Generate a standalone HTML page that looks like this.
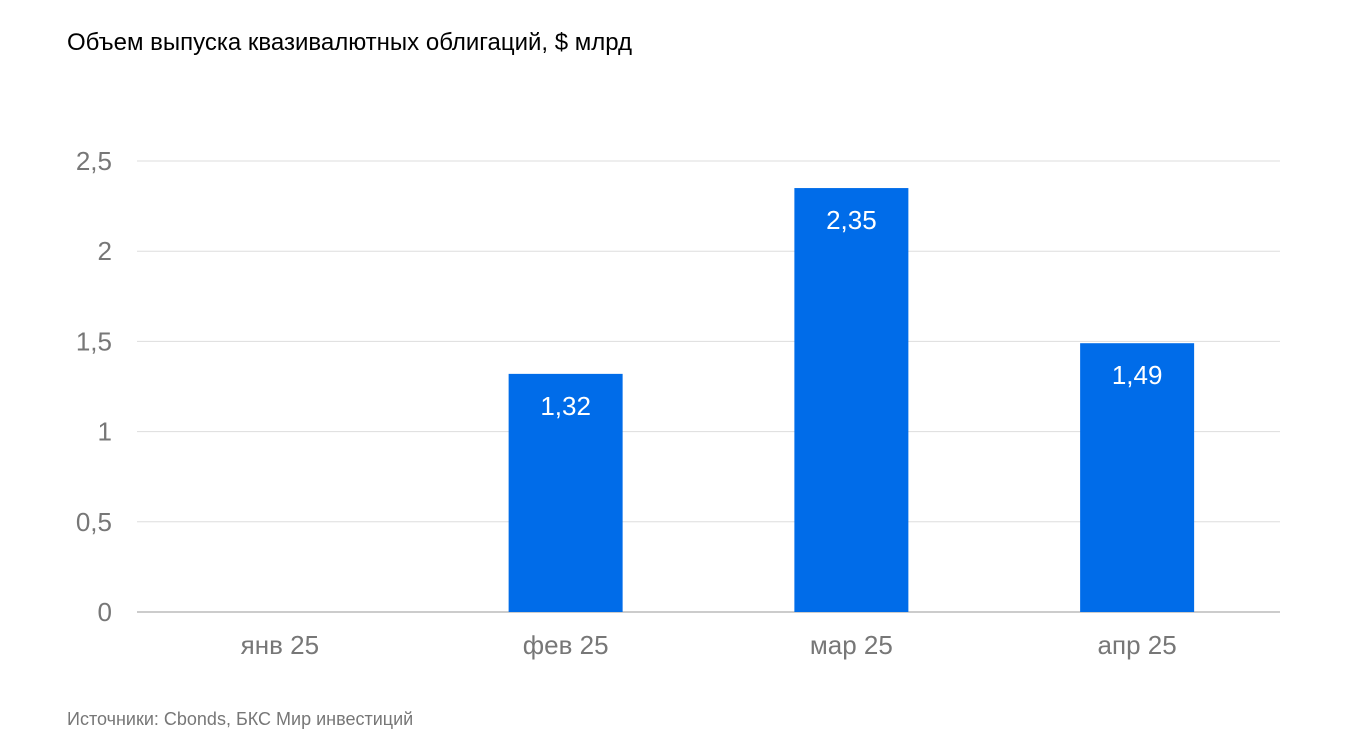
<!DOCTYPE html>
<html><head><meta charset="utf-8">
<style>
body{margin:0;background:#fff;font-family:"Liberation Sans",Arial,sans-serif;}
#wrap{position:relative;width:1348px;height:751px;overflow:hidden;}
</style></head>
<body>
<div id="wrap">
<svg id="chart" width="1348" height="751">
<text x="67" y="50" font-size="24" fill="#000">Объем выпуска квазивалютных облигаций, $ млрд</text>
<g id="grid"></g>
<g id="yticks"></g>
<g id="bars"></g>
<g id="xticks"></g>
<text x="67" y="725" font-size="18" fill="#777">Источники: Cbonds, БКС Мир инвестиций</text>
</svg>
</div>
<script>
const categories=["янв 25","фев 25","мар 25","апр 25"];
const values=[0,1.32,2.35,1.49];
const valueLabels=["","1,32","2,35","1,49"];
const yTicks=[0,0.5,1,1.5,2,2.5];
const yTickLabels=["0","0,5","1","1,5","2","2,5"];
const NS="http://www.w3.org/2000/svg";
const x0=137,x1=1280,yBase=612,yTop=161,yMax=2.5;
const band=(x1-x0)/categories.length, barW=114;
function y(v){return yBase-(v/yMax)*(yBase-yTop);}
function xc(i){return x0+band*(i+0.5);}
function mk(tag,attrs,parent){const e=document.createElementNS(NS,tag);for(const k in attrs)e.setAttribute(k,attrs[k]);parent.appendChild(e);return e;}
const grid=document.getElementById('grid'),yt=document.getElementById('yticks'),bars=document.getElementById('bars'),xt=document.getElementById('xticks');
yTicks.forEach((v,i)=>{
  const l=mk('line',{x1:x0,x2:x1,y1:y(v),y2:y(v),stroke:v===0?'#ccc':'#ddd','stroke-width':v===0?2:1},grid);
  
  
  const t=mk('text',{x:112,y:y(v)+9,'text-anchor':'end','font-size':26,fill:'#777'},yt);
  t.textContent=yTickLabels[i];
  
  
});
categories.forEach((c,i)=>{
  if(values[i]>0){
    const r=mk('rect',{x:xc(i)-barW/2,y:y(values[i]),width:barW,height:yBase-y(values[i]),fill:'#006ce9'},bars);
    
    
    const t=mk('text',{x:xc(i),y:y(values[i])+41,'text-anchor':'middle','font-size':26,fill:'#fff'},bars);
    t.textContent=valueLabels[i];
    
    
  }
  const t=mk('text',{x:xc(i),y:654,'text-anchor':'middle','font-size':26,fill:'#777'},xt);
  t.textContent=c;
  
  
});
</script>
</body></html>
